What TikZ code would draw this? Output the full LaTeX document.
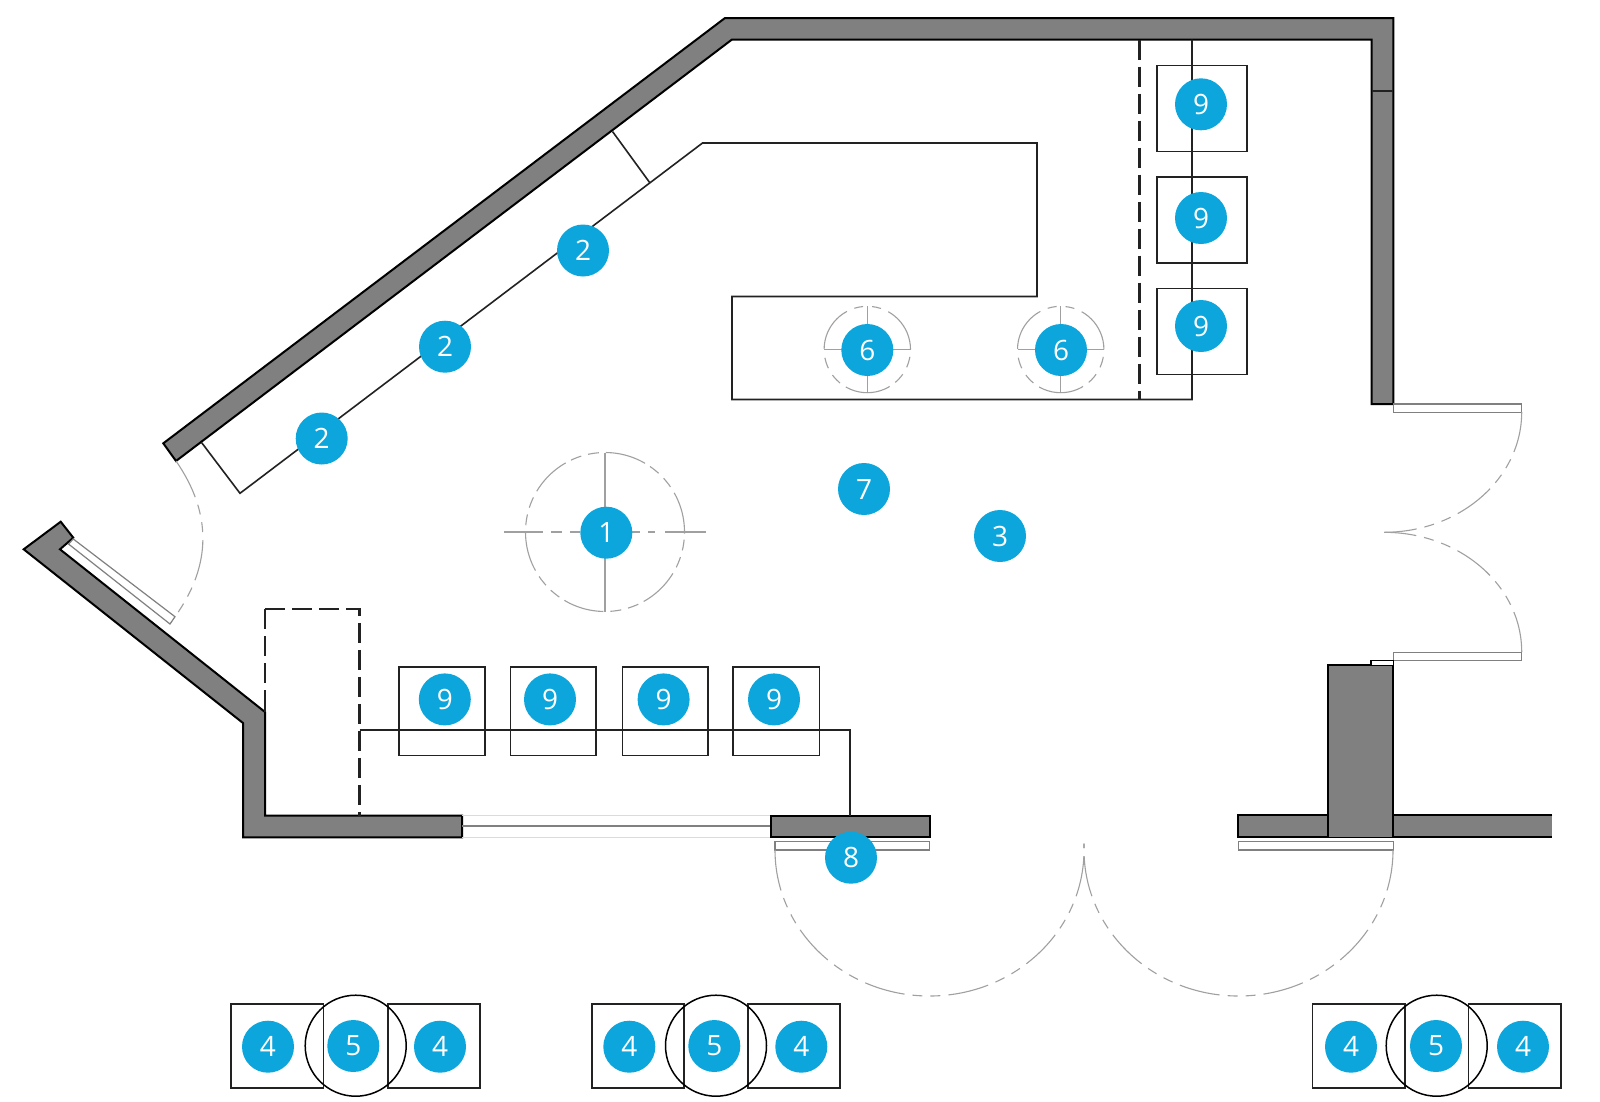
\documentclass[tikz,border=0pt]{standalone}
\usepackage{fontspec}
\setmainfont{Open Sans}
\definecolor{wallgray}{HTML}{808080}
\definecolor{mark}{HTML}{0CA6DC}
\definecolor{ink}{HTML}{222222}
\definecolor{swing}{HTML}{A0A0A0}
\definecolor{leaf}{HTML}{808080}
\tikzset{
  wall/.style={fill=wallgray,draw=black,line width=2pt,line join=miter},
  fixture/.style={draw=ink,line width=1.6pt},
  hidden/.style={draw=ink,line width=2.2pt,dash pattern=on 20pt off 7pt},
  swingarc/.style={draw=swing,line width=1.1pt,dash pattern=on 41pt off 8pt on 10pt off 8pt on 10pt off 8pt},
  doorleaf/.style={draw=leaf,line width=1.2pt,fill=white},
  glass/.style={draw=black!14,line width=1.2pt},
  axisline/.style={draw=swing,line width=1.2pt},
  numbered/.style={circle,fill=mark,inner sep=0pt,minimum size=52pt,text=white,font=\fontsize{28}{28}\selectfont},
}
\begin{document}
\begin{tikzpicture}[x=1pt,y=-1pt]
\useasboundingbox (0,0) rectangle (1600,1101);
\fill[white] (0,0) rectangle (1600,1101);

% upper wall
\path[wall] (163.3,443.3) -- (725,18) -- (1393.3,18) -- (1393.3,404) -- (1371.5,404) -- (1371.5,39.5) -- (732,39.5) -- (176,461) -- cycle;
\draw[fixture,line width=1.6pt] (1371.5,90.7) -- (1393.3,90.7);
% lower-left wall
\path[wall] (23.7,549.3) -- (60.7,521.7) -- (73.3,537.7) -- (60,549.3) -- (265,712) -- (265,815.5) -- (462,815.5) -- (462,837.3) -- (243,837.3) -- (243,723) -- cycle;
\draw[fixture,line width=2pt] (265,706) -- (265,712);
% window
\draw[glass] (462,815.5) -- (770.5,815.5) (462,837.3) -- (770.5,837.3);
\draw[draw=leaf,line width=1.2pt] (462,826) -- (770.5,826);
% wall beside the bottom door
\path[wall] (770.5,815.5) rectangle (929.7,837.3);
% right walls
\path[fill=wallgray] (1238.3,815) rectangle (1552.3,837.3);
\draw[black,line width=2pt] (1552.3,815) -- (1393.3,815) (1328.3,815) -- (1238.3,815) -- (1238.3,837.3) -- (1552.3,837.3);
\path[wall] (1328.3,837.3) -- (1328.3,665) -- (1393.3,665) -- (1393.3,837.3);

% door leaves
\path[doorleaf] (73.3,539) -- (175,616.7) -- (170,624) -- (68.5,544) -- cycle;
\path[doorleaf] (1393.2,404) rectangle (1521.7,412.3);
\path[doorleaf] (1393.2,652.3) rectangle (1521.7,660.7);
\draw[draw=black,line width=1.4pt,fill=white] (1371,665) -- (1371,660.7) -- (1393.2,660.7) -- (1393.2,665);
\path[doorleaf] (775,841.7) rectangle (929.7,850);
\path[doorleaf] (1238.3,841.5) rectangle (1393.3,850);

% swing arcs
\draw[swingarc] (176,461) .. controls (212,513) and (212,565) .. (175,616.7);
\draw[swingarc] (1521.7,412) .. controls (1521.7,478.3) and (1460,532.3) .. (1384,532.3);
\draw[swingarc] (1521.7,652) .. controls (1521.7,585.7) and (1460,532.3) .. (1384,532.3);
\draw[swingarc] (775,850) .. controls (775,930.6) and (844.2,996) .. (929.5,996) .. controls (1014.8,996) and (1084,930.6) .. (1084,850) -- (1084,843.6);
\draw[swingarc] (1393,850) .. controls (1393,930.6) and (1323.8,996) .. (1238.5,996) .. controls (1153.2,996) and (1084,930.6) .. (1084,850) -- (1084,843.6);

% counter and shelf
\draw[fixture] (201.7,442.7) -- (240,493.3) -- (702.5,143) -- (1037,143) -- (1037,296.5) -- (732,296.5) -- (732,399.5) -- (1192,399.5) -- (1192,39.5);
\draw[fixture] (612.5,131.5) -- (650,183);
\draw[hidden] (1139.5,39.5) -- (1139.5,399.5);
\draw[hidden] (265,609.3) -- (359.5,609.3) -- (359.5,815.5);
\draw[hidden] (265,609.3) -- (265,706);
\draw[fixture] (359.5,730) -- (850,730) -- (850,815.5);

% chairs
\foreach \xa/\xb in {399/484.7,510.3/596,622.5/708.2,732.7/819.5}
  \draw[fixture] (\xa,666.7) rectangle (\xb,755.3);
\foreach \ya/\yb in {65.3/151.5,177/263,288.5/374.5}
  \draw[fixture] (1156.7,\ya) rectangle (1246.7,\yb);

% table groups
\foreach \xa/\xb/\xc/\xd/\xe in {231/323.3/387.7/480/355.7,591.7/684/747.7/840/716,1312.3/1405/1468.3/1561/1436.7}{
  \draw[fixture] (\xa,1004) rectangle (\xb,1087.7);
  \draw[fixture] (\xc,1004) rectangle (\xd,1087.7);
  \draw[draw=black,line width=1.5pt] (\xe,1045.7) circle[radius=50.5pt];
}

% stools
\foreach \cx in {867.3,1060.7}{
  \draw[axisline] (\cx-43.2,349.5) -- (\cx+43.2,349.5) (\cx,306.3) -- (\cx,392.7);
  \draw[draw=swing,line width=1.1pt,dash pattern=on 46pt off 8pt on 9pt off 9pt on 9pt off 8pt on 46pt off 9pt on 11pt off 8pt on 11pt off 7pt on 46pt off 7pt on 11pt off 8pt on 11pt off 9pt]
    (\cx+43.2,349.5) arc[start angle=0,end angle=360,radius=43.2pt];
}

% turning circle
\draw[axisline] (605,452.7) -- (605,611.7);
\draw[axisline] (504,532) -- (543,532) (551,532) -- (562,532) (570,532) -- (580,532)
  (632,532) -- (640,532) (648,532) -- (655,532) (665,532) -- (706,532);
\draw[draw=swing,line width=1.1pt,dash pattern=on 41pt off 7pt on 11pt off 7pt on 11pt off 6pt]
  (684.5,532) arc[start angle=0,end angle=360,radius=79.5pt];

% numbered markers
\node[numbered] (m1) at (606.3,532.7) {1};
\node[numbered] (m2a) at (583,250.5) {2};
\node[numbered] (m2b) at (445,346.7) {2};
\node[numbered] (m2c) at (321.7,438.5) {2};
\node[numbered] (m3) at (1000,536) {3};
\node[numbered] (m7) at (864,489) {7};
\node[numbered] (m8) at (851,857.7) {8};
\node[numbered] (m6a) at (867.3,350) {6};
\node[numbered] (m6b) at (1061,350) {6};
\node[numbered] (m9a) at (1201,104.3) {9};
\node[numbered] (m9b) at (1201,218) {9};
\node[numbered] (m9c) at (1201,326) {9};
\node[numbered] (m9d) at (444.8,699.4) {9};
\node[numbered] (m9e) at (550,699.4) {9};
\node[numbered] (m9f) at (663.6,699.4) {9};
\node[numbered] (m9g) at (774,699.4) {9};
\node[numbered] (m4a) at (268,1046.7) {4};
\node[numbered] (m5a) at (353.3,1046) {5};
\node[numbered] (m4b) at (440,1046.7) {4};
\node[numbered] (m4c) at (629.3,1046.7) {4};
\node[numbered] (m5b) at (714.3,1046) {5};
\node[numbered] (m4d) at (801.3,1046.7) {4};
\node[numbered] (m4e) at (1351,1046.7) {4};
\node[numbered] (m5c) at (1436,1046) {5};
\node[numbered] (m4f) at (1523,1046.7) {4};
\end{tikzpicture}
\end{document}
